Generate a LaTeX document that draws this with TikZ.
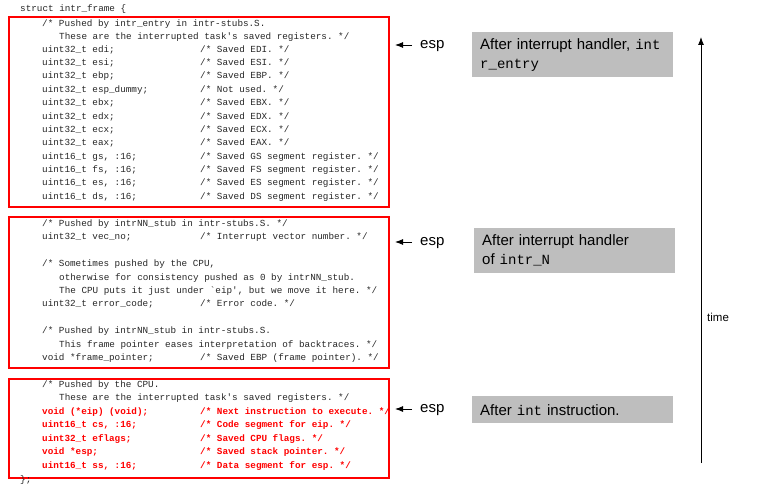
\documentclass[tikz,border=0pt]{standalone}
\usepackage{fontspec}
\setmainfont{Liberation Sans}
\setmonofont{Liberation Mono}
\usetikzlibrary{positioning, arrows.meta}

\definecolor{notegray}{RGB}{190,190,190}
\definecolor{framered}{RGB}{255,0,0}
\newcommand{\nt}[1]{{\ttfamily\fontsize{14}{19}\selectfont #1}}

\begin{document}
\begin{tikzpicture}[x=1pt, y=-1pt, >={Latex[length=8pt, width=6pt]},
    code/.style={anchor=west, inner sep=0pt, text height=6.5pt, text depth=2pt,
                 font=\ttfamily\fontsize{9.3}{11}\selectfont, text=black!85},
    hot/.style={code, text=framered, font=\ttfamily\bfseries\fontsize{9.3}{11}\selectfont},
    redframe/.style={draw=framered, line width=2pt, anchor=north west, inner sep=0pt, minimum width=380pt},
    note/.style={fill=notegray, anchor=north west, inner xsep=8pt, inner ysep=0pt,
                 text width=185pt, align=left, font=\fontsize{15}{19}\selectfont},
    ptr/.style={anchor=west, inner sep=0pt, text height=7.8pt, text depth=0pt, font=\fontsize{15}{18}\selectfont}]

    \useasboundingbox (0,0) rectangle (770,487);

    % 1. Red frames
    \node[redframe, minimum height=190pt] (frame1) at (8,16) {};
    \node[redframe, minimum height=151pt] (frame2) at (8,216) {};
    \node[redframe, minimum height=99pt]  (frame3) at (8,378) {};

    % 2. struct header and closing
    \node[code] (head) at (20,9) {struct intr\_frame \{};
    \node[code] (tail) at (20,480) {\};};

    % FRAME 1 (intr_entry)
    \node[code] (a1) at (42,23.8) {/* Pushed by intr\_entry in intr-stubs.S.};
    \node[code] (a2) at (59,36.9) {These are the interrupted task's saved registers. */};
    \foreach \reg/\note [count=\k from 0] in {edi/{Saved EDI.}, esi/{Saved ESI.}, ebp/{Saved EBP.},
            esp\_dummy/{Not used.}, ebx/{Saved EBX.}, edx/{Saved EDX.}, ecx/{Saved ECX.}, eax/{Saved EAX.}} {
        \node[code] (r\k) at (42, 50+13.35*\k) {uint32\_t \reg;};
        \node[code] (rn\k) at (200, 50+13.35*\k) {/* \note{} */};
    }
    \foreach \seg/\SEG [count=\k from 0] in {gs/GS, fs/FS, es/ES, ds/DS} {
        \node[code] (s\k) at (42, 156.8+13.35*\k) {uint16\_t \seg, :16;};
        \node[code] (sn\k) at (200, 156.8+13.35*\k) {/* Saved \SEG{} segment register. */};
    }

    % FRAME 2 (intrNN_stub)
    \foreach \x/\y/\txt [count=\i] in {
        42/224/{/* Pushed by intrNN\_stub in intr-stubs.S. */},
        42/237.5/{uint32\_t vec\_no;}, 200/237.5/{/* Interrupt vector number. */},
        42/264.4/{/* Sometimes pushed by the CPU,},
        59/277.8/{otherwise for consistency pushed as 0 by intrNN\_stub.},
        59/291.2/{The CPU puts it just under `eip', but we move it here. */},
        42/304.6/{uint32\_t error\_code;}, 200/304.6/{/* Error code. */},
        42/331.4/{/* Pushed by intrNN\_stub in intr-stubs.S.},
        59/344.8/{This frame pointer eases interpretation of backtraces. */},
        42/358.2/{void *frame\_pointer;}, 200/358.2/{/* Saved EBP (frame pointer). */}} {
        \node[code] (b\i) at (\x,\y) {\txt};
    }

    % FRAME 3 (CPU)
    \node[code] (c1) at (42,385) {/* Pushed by the CPU.};
    \node[code] (c2) at (59,398.5) {These are the interrupted task's saved registers. */};
    \foreach \x/\y/\txt [count=\i] in {
        42/412/{void (*eip) (void);}, 200/412/{/* Next instruction to execute. */},
        42/425.5/{uint16\_t cs, :16;}, 200/425.5/{/* Code segment for eip. */},
        42/439/{uint32\_t eflags;}, 200/439/{/* Saved CPU flags. */},
        42/452.5/{void *esp;}, 200/452.5/{/* Saved stack pointer. */},
        42/466/{uint16\_t ss, :16;}, 200/466/{/* Data segment for esp. */}} {
        \node[hot] (h\i) at (\x,\y) {\txt};
    }

    % 3. esp pointers
    \foreach \n/\y/\f in {1/45/frame1, 2/242/frame2, 3/409/frame3} {
        \node[ptr] (esp\n) at (420,\y) {esp};
        \coordinate (tip\n) at (esp\n.west -| \f.east);
        \draw[->, line width=0.9pt] ([xshift=-8pt]esp\n.west) -- ([xshift=5pt]tip\n);
    }

    % 4. Grey notes
    \node[note, minimum height=45pt] (after1) at (472,32) {After interrupt handler, \nt{int}\\\nt{r\_entry}};
    \node[note, minimum height=45pt] (after2) at (474,228) {After interrupt handler\\of \nt{intr\_N}};
    \node[note, minimum height=27pt] (after3) at (472,396) {After \nt{int} instruction.};

    % 5. Time axis
    \coordinate (t0) at (701,463);
    \coordinate (t1) at (701,37);
    \draw[->, line width=0.9pt] (t0) -- (t1);
    \node[anchor=west, inner sep=0pt, font=\fontsize{11.5}{14}\selectfont] (timelab) at (707,317) {time};

\end{tikzpicture}
\end{document}
